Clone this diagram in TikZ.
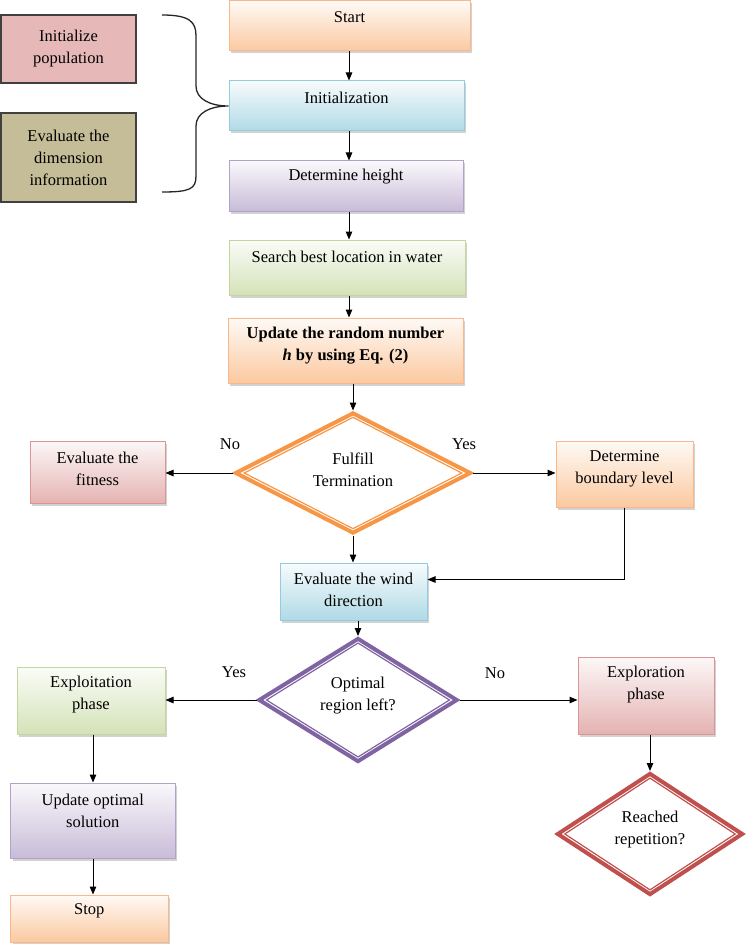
\documentclass[tikz,border=0pt]{standalone}
\usepackage{fontspec}
\setmainfont{Liberation Serif}
\usetikzlibrary{shapes.geometric,shadows,arrows.meta,calc}
\definecolor{oF}{HTML}{FBC9A0}
\definecolor{oD}{HTML}{F9B78A}
\definecolor{bF}{HTML}{B0DAE6}
\definecolor{bD}{HTML}{93CDDD}
\definecolor{pF}{HTML}{C8BCD8}
\definecolor{pD}{HTML}{B3A2C7}
\definecolor{gF}{HTML}{D4E2B8}
\definecolor{gD}{HTML}{C3D69B}
\definecolor{rF}{HTML}{E4B3B2}
\definecolor{rD}{HTML}{D99694}
\definecolor{dO}{HTML}{F79646}
\definecolor{dP}{HTML}{8064A2}
\definecolor{dR}{HTML}{C0504D}
\definecolor{sideA}{HTML}{E6B9B8}
\definecolor{sideB}{HTML}{C4BD97}
\begin{document}
\begin{tikzpicture}[x=1pt,y=-1pt,
  font=\fontsize{16.5}{22}\selectfont,
  cbox/.style n args={2}{rectangle, draw=#2, line width=1pt, top color=#1!10, bottom color=#1,
     inner sep=0pt, drop shadow={shadow xshift=2pt,shadow yshift=-2.5pt,fill=black!35}},
  sbox/.style={rectangle, draw=black!75, line width=1.3pt, fill=#1, inner sep=0pt},
  dout/.style={diamond, draw=#1, line width=4pt, inner sep=0pt, fill=white},
  din/.style={diamond, draw=#1, line width=1.2pt, inner sep=0pt},
  txt/.style={align=center, inner sep=0pt},
  conn/.style={draw=black, line width=1pt, -{Triangle[length=8pt,width=6.5pt]}}]
\useasboundingbox (0,0) rectangle (746,944);

% side boxes
\node[sbox=sideA, minimum width=135pt, minimum height=68pt] (ipop) at (68.5,49) {};
\node[txt] (ipopT) at (68.5,49) {Initialize\\population};
\node[sbox=sideB, minimum width=135pt, minimum height=89pt] (edim) at (68.5,157.5) {};
\node[txt] (edimT) at (68.5,157.5) {Evaluate the\\dimension\\information};

% main column
\node[cbox={oF}{oD}, minimum width=241pt, minimum height=50pt] (start) at (349.5,26) {};
\node[txt] (startT) at (349.5,17) {Start};
\node[cbox={bF}{bD}, minimum width=235pt, minimum height=50pt] (init) at (346.5,106) {};
\node[txt] (initT) at (346.5,98) {Initialization};
\node[cbox={pF}{pD}, minimum width=234pt, minimum height=50pt] (height) at (346,186) {};
\node[txt] (heightT) at (346,177) {Determine height};
\node[cbox={gF}{gD}, minimum width=236pt, minimum height=55pt] (search) at (347,267.5) {};
\node[txt] (searchT) at (347,257) {Search best location in water};
\node[cbox={oF}{oD}, minimum width=235pt, minimum height=65pt] (update) at (345.5,350.5) {};
\node[txt, font=\fontsize{16.5}{22}\selectfont\bfseries] (updateT) at (345.5,346) {Update the random number\\\textit{h} by using Eq. (2)};

% brace
\coordinate (bt) at (162,15);
\coordinate (btip) at (init.west);
\coordinate (bb) at (162,192);
\draw[line width=1.3pt, black!85] (bt) .. controls (190,15) and (196,22) .. (196,36) -- (196,86)
  .. controls (196,99) and (210,106) .. (btip)
  .. controls (210,106) and (196,113) .. (196,126) -- (196,176)
  .. controls (196,189) and (190,192) .. (bb);

% Fulfill diamond
\node[dout=dO, minimum width=236pt, minimum height=121pt] (fulfill) at (353,473) {};
\node[din=dO, minimum width=218pt, minimum height=111.8pt] (fulfillIn) at (353,473) {};
\node[txt] (fulfillT) at (353,470) {Fulfill\\Termination};

\node[cbox={rF}{rD}, minimum width=135pt, minimum height=62pt] (fit) at (97.5,472) {};
\node[txt] (fitT) at (97.5,469) {Evaluate the\\fitness};
\node[cbox={oF}{oD}, minimum width=137pt, minimum height=66pt] (bound) at (624.5,474) {};
\node[txt] (boundT) at (624.5,469) {Determine\\boundary level};
\node[cbox={bF}{bD}, minimum width=147pt, minimum height=57pt] (wind) at (353.5,591.5) {};
\node[txt] (windT) at (353.5,590) {Evaluate the wind\\direction};

% Optimal diamond
\node[dout=dP, minimum width=199pt, minimum height=124pt] (opt) at (358,700) {};
\node[din=dP, minimum width=183.5pt, minimum height=114.4pt] (optIn) at (358,700) {};
\node[txt] (optT) at (358,696) {Optimal\\region left?};

\node[cbox={gF}{gD}, minimum width=148pt, minimum height=67pt] (exploit) at (91,700.5) {};
\node[txt] (exploitT) at (91,694.5) {Exploitation\\phase};
\node[cbox={rF}{rD}, minimum width=136pt, minimum height=77pt] (explore) at (646,695.5) {};
\node[txt] (exploreT) at (646,684.5) {Exploration\\phase};
\node[cbox={pF}{pD}, minimum width=164.5pt, minimum height=75pt] (updopt) at (92.75,820.5) {};
\node[txt] (updoptT) at (92.75,811) {Update optimal\\solution};
\node[cbox={oF}{oD}, minimum width=157.5pt, minimum height=47pt] (stop) at (89.25,918.5) {};
\node[txt] (stopT) at (89.25,911) {Stop};

% Reached diamond
\node[dout=dR, minimum width=186pt, minimum height=122pt] (reach) at (650,834) {};
\node[din=dR, minimum width=170.8pt, minimum height=112.2pt] (reachIn) at (650,834) {};
\node[txt] (reachT) at (650,830) {Reached\\repetition?};

% labels
\node[txt] (l1) at (230,444) {No};
\node[txt] (l2) at (464,444) {Yes};
\node[txt] (l3) at (234,672) {Yes};
\node[txt] (l4) at (495,673) {No};

% connectors
\draw[conn] (start.south -| 349,0) -- (init.north -| 349,0);
\draw[conn] (init.south -| 349,0) -- (height.north -| 349,0);
\draw[conn] (height.south -| 349,0) -- (search.north -| 349,0);
\draw[conn] (search.south -| 349,0) -- (update.north -| 349,0);
\draw[conn] (fulfill.north |- update.south) -- (fulfill.north);
\draw[conn] (fulfill.west) -- (fulfill.west -| fit.east);
\draw[conn] (fulfill.east) -- (fulfill.east -| bound.west);
\draw[conn] (fulfill.south) -- (fulfill.south |- wind.north);
\draw[conn] (bound.south) |- ([yshift=12pt]wind.east);
\draw[conn] (opt.north |- wind.south) -- (opt.north);
\draw[conn] (opt.west) -- (opt.west -| exploit.east);
\draw[conn] (opt.east) -- (opt.east -| explore.west);
\draw[conn] (exploit.south -| 93,0) -- (updopt.north -| 93,0);
\draw[conn] (updopt.south -| 93,0) -- (stop.north -| 93,0);
\draw[conn] (reach.north |- explore.south) -- (reach.north);
\end{tikzpicture}
\end{document}
